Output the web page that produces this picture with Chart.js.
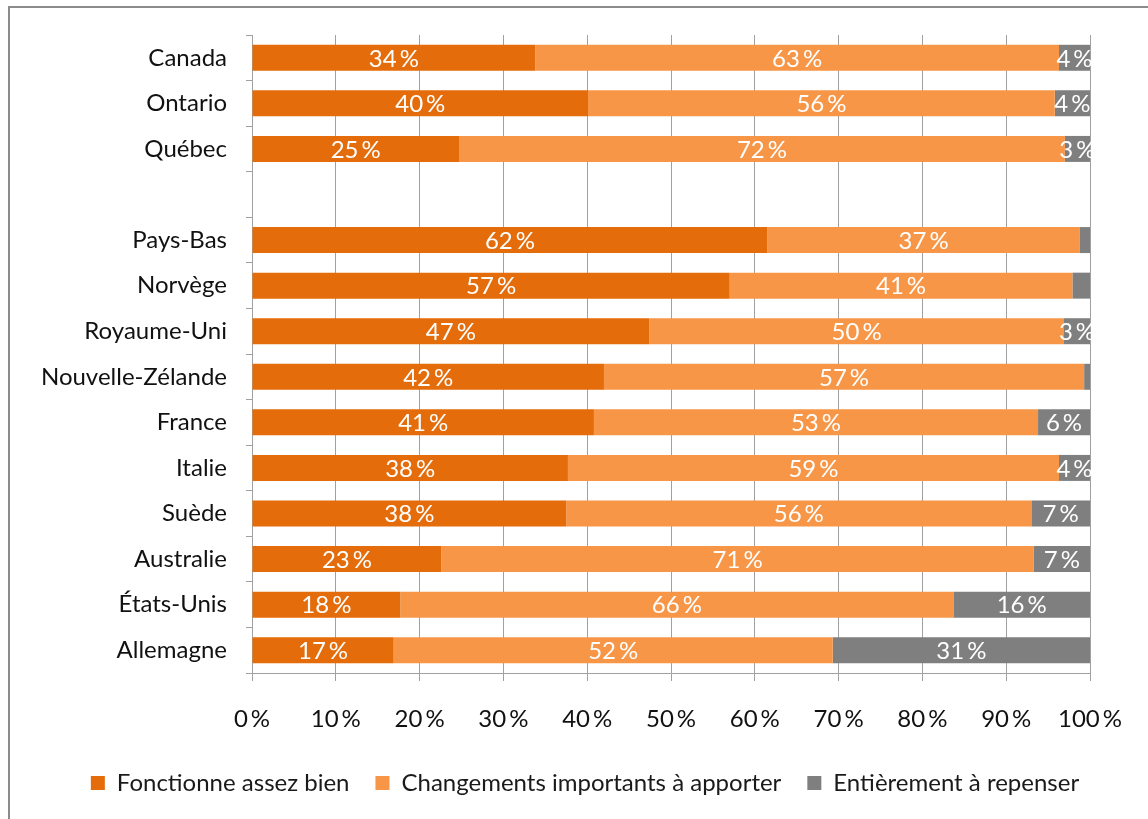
<!DOCTYPE html>
<html lang="fr">
<head>
<meta charset="utf-8">
<title>Évaluation du système de santé</title>
<script src="https://cdn.jsdelivr.net/npm/chart.js@4.4.1/dist/chart.umd.min.js"></script>
<style>
  html, body { margin: 0; padding: 0; background: #fff; overflow: hidden; }
  #wrap { position: relative; width: 1148px; height: 819px; overflow: hidden; }
  #frame {
    position: absolute; left: 8px; top: 6px; width: 1200px; height: 900px;
    border: 2px solid #8c8c8c; box-sizing: border-box; pointer-events: none;
  }
  canvas { position: absolute; left: 0; top: 0; }
</style>
</head>
<body>
<div id="wrap">
  <canvas id="chart" width="1148" height="819"></canvas>
  <div id="frame"></div>
</div>
<script>
// Données (en % des répondants)
const categories = ['Canada', 'Ontario', 'Québec', '', 'Pays-Bas', 'Norvège', 'Royaume-Uni',
    'Nouvelle-Zélande', 'France', 'Italie', 'Suède', 'Australie', 'États-Unis', 'Allemagne'];
const fonctionneBien = [33.8, 40.1, 24.7, null, 61.5, 57.0, 47.4, 42.0, 40.8, 37.7, 37.5, 22.6, 17.7, 16.9];
const changementsImportants = [62.5, 55.7, 72.3, null, 37.3, 40.9, 49.5, 57.3, 53.0, 58.6, 55.5, 70.7, 66.0, 52.4];
const aRepenser = [3.7, 4.2, 3.0, null, 1.2, 2.1, 3.1, 0.7, 6.2, 3.7, 7.0, 6.7, 16.3, 30.7];
const seriesNames = ['Fonctionne assez bien', 'Changements importants à apporter', 'Entièrement à repenser'];
const xTicks = [0, 10, 20, 30, 40, 50, 60, 70, 80, 90, 100];

const FONT = 'Lato, "Open Sans", sans-serif';

function pct(v) {
    return Math.round(v) + '\u2009%';
}

// étiquettes blanches au centre de chaque segment
const barLabels = {
    id: 'barLabels',
    afterDatasetsDraw(chart) {
        const ctx = chart.ctx;
        ctx.save();
        ctx.font = '24px ' + FONT;
        ctx.fillStyle = '#ffffff';
        ctx.textAlign = 'center';
        ctx.textBaseline = 'middle';
        chart.data.datasets.forEach((ds, i) => {
            const meta = chart.getDatasetMeta(i);
            meta.data.forEach((bar, j) => {
                const v = ds.data[j];
                if (v == null || v < 2.5) return;
                const p = bar.getProps(['x', 'y', 'base'], true);
                ctx.fillText(pct(v), (p.x + p.base) / 2, p.y + 1);
            });
        });
        ctx.restore();
    }
};

// décale la légende vers la droite (centrée comme dans l'original)
const legendShift = {
    id: 'legendShift',
    afterLayout(chart) {
        if (chart.legend) {
            chart.legend.left += 40;
            chart.legend.right += 40;
        }
    }
};

function initChart() {
    const ctx = document.getElementById('chart').getContext('2d');

    new Chart(ctx, {
        type: 'bar',
        data: {
            labels: categories,
            datasets: [{
                label: seriesNames[0],
                data: fonctionneBien,
                backgroundColor: '#E46C0A'
            }, {
                label: seriesNames[1],
                data: changementsImportants,
                backgroundColor: '#F79646'
            }, {
                label: seriesNames[2],
                data: aRepenser,
                backgroundColor: '#7F7F7F'
            }]
        },
        options: {
            indexAxis: 'y',
            responsive: false,
            animation: false,
            categoryPercentage: 0.57,
            barPercentage: 1,
            layout: {
                padding: { left: 0, top: 35, right: 58, bottom: 14 }
            },
            plugins: {
                legend: {
                    position: 'bottom',
                    labels: {
                        font: { family: FONT, size: 24 },
                        color: '#1a1a1a',
                        boxWidth: 14,
                        boxHeight: 14,
                        padding: 26
                    }
                },
                tooltip: { enabled: false }
            },
            scales: {
                x: {
                    stacked: true,
                    min: 0,
                    max: 100,
                    afterBuildTicks: function(scale) {
                        scale.ticks = xTicks.map(v => ({ value: v }));
                    },
                    afterFit: function(scale) {
                        scale.height = 72;
                    },
                    ticks: {
                        callback: function(value) {
                            return value + '\u2009%';
                        },
                        font: { family: FONT, size: 24 },
                        color: '#111',
                        padding: 24,
                        maxRotation: 0
                    },
                    grid: {
                        color: '#a0a0a0',
                        tickLength: 8
                    },
                    border: { color: '#a0a0a0' }
                },
                y: {
                    stacked: true,
                    afterFit: function(scale) {
                        scale.width = 252;
                    },
                    ticks: {
                        font: { family: FONT, size: 24 },
                        color: '#111',
                        padding: 19
                    },
                    grid: {
                        drawOnChartArea: false,
                        offset: true,
                        color: '#a0a0a0',
                        tickLength: 6
                    },
                    border: { color: '#a0a0a0' }
                }
            }
        },
        plugins: [barLabels, legendShift]
    });
}

document.addEventListener('DOMContentLoaded', function() {
    initChart();
});
</script>
</body>
</html>
